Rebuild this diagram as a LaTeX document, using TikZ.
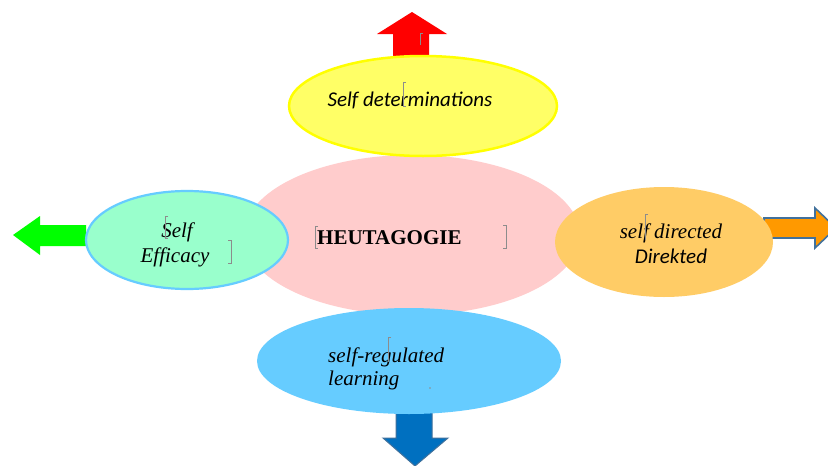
\documentclass[tikz,border=0pt]{standalone}
\usepackage{fontspec}
\setmainfont{Liberation Serif}
\newfontfamily\calfont{Carlito}
\usetikzlibrary{shapes.geometric}
\definecolor{yfill}{HTML}{FFFF66}
\definecolor{yline}{HTML}{FFFF00}
\definecolor{pinkc}{HTML}{FFCCCC}
\definecolor{greenc}{HTML}{99FFCC}
\definecolor{skyc}{HTML}{66CCFF}
\definecolor{orangec}{HTML}{FFCC66}
\definecolor{redarr}{HTML}{FF0000}
\definecolor{greenarr}{HTML}{00FF00}
\definecolor{orarr}{HTML}{FF9900}
\definecolor{bluearr}{HTML}{0070C0}
\definecolor{steel}{HTML}{41719C}
\definecolor{brk}{HTML}{8C8C8C}
\begin{document}
\begin{tikzpicture}[x=1pt,y=-1pt,
  bubble/.style={ellipse,inner sep=0pt},
  lbl/.style={inner sep=0pt,font=\fontsize{21}{25}\selectfont},
  framemark/.style={draw=brk,line width=0.9pt},
  blockarrow/.style={line join=miter}]
\useasboundingbox[fill=white] (0,0) rectangle (828,466);
% block arrows behind the bubbles
\fill[redarr,blockarrow] (393,56) -- (393,34) -- (377,34) -- (412,12) -- (447,34) -- (429,34) -- (429,56) -- cycle;
\fill[greenarr,blockarrow] (86,225) -- (40,225) -- (40,216) -- (13,235) -- (40,255) -- (40,246) -- (86,246) -- cycle;
\draw[fill=orarr,draw=steel,line width=1.6pt,blockarrow] (764,218) -- (815,218) -- (815,208) -- (836,228) -- (815,248) -- (815,238) -- (764,238) -- cycle;
\draw[fill=bluearr,draw=steel,line width=1pt,blockarrow] (396,412) -- (432,412) -- (432,438) -- (448,438) -- (415,466) -- (383,438) -- (396,438) -- cycle;
% bubbles
\node[bubble,fill=pinkc,minimum width=336pt,minimum height=160pt] (heu) at (412,235) {};
\node[bubble,fill=yfill,draw=yline,line width=2.5pt,minimum width=268pt,minimum height=100pt] (sdet) at (423,106) {};
\node[bubble,fill=greenc,draw=skyc,line width=2.2pt,minimum width=202pt,minimum height=98pt] (seff) at (187,240) {};
\node[bubble,fill=orangec,minimum width=218pt,minimum height=110pt] (sdir) at (664,242) {};
\node[bubble,fill=skyc,minimum width=304pt,minimum height=106pt] (sreg) at (409,361) {};
% texts
\node[lbl,anchor=base] (t1) at (410,106) {\calfont\itshape Self determinations};
\node[lbl,anchor=base west] (t2) at (317,244) {\bfseries HEUTAGOGIE};
\node[lbl,anchor=base] (t3a) at (177,237) {\itshape Self};
\node[lbl,anchor=base] (t3b) at (175,262) {\itshape Efficacy};
\node[lbl,anchor=base] (t4a) at (671,238) {\itshape self directed};
\node[lbl,anchor=base] (t4b) at (671,263) {\calfont\itshape Direkted};
\node[lbl,anchor=base west] (t5a) at (328,362) {\itshape self-regulated};
\node[lbl,anchor=base west] (t5b) at (328,385) {\itshape learning};
% grey text-frame marks
\draw[framemark] (423,33) -- (420,33) -- (420,45);
\draw[framemark] (406,82) -- (403,82) -- (403,106) -- (406,106);
\draw[framemark] (168,216) -- (165,216) -- (165,238) -- (168,238);
\draw[framemark] (228,240) -- (231,240) -- (231,263) -- (228,263);
\draw[framemark] (648,214) -- (645,214) -- (645,240);
\draw[framemark] (318,226) -- (315,226) -- (315,248) -- (318,248);
\draw[framemark] (503,225) -- (506,225) -- (506,248) -- (503,248);
\draw[framemark] (391,337) -- (388,337) -- (388,362);
\fill[brk] (430,388) circle (0.9pt);
\end{tikzpicture}
\end{document}
